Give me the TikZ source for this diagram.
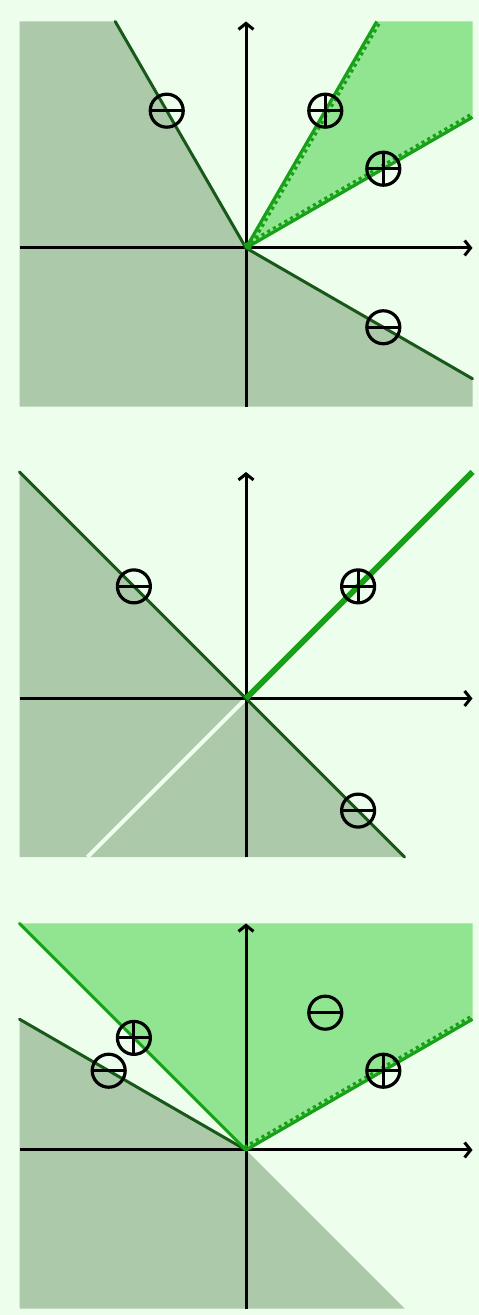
\documentclass[tikz,border=0pt]{standalone}
\usetikzlibrary{arrows.meta}
\definecolor{bgc}{RGB}{238,254,236}
\definecolor{darkfill}{RGB}{172,202,170}
\definecolor{greenfill}{RGB}{145,229,145}
\definecolor{darkline}{RGB}{24,88,24}
\definecolor{brightline}{RGB}{24,160,24}
\tikzset{
  axis/.style={line width=3pt, black, -{Straight Barb[length=6pt,width=15pt]}},
  darkedge/.style={line width=3pt, darkline, line cap=round},
  solidgreen/.style={line width=3.2pt, brightline},
  greendots/.style={line width=3pt, brightline, dash pattern=on 3.2pt off 3.4pt},
  sgn/.style={circle, draw=black, line width=3.2pt, minimum size=33pt, inner sep=0pt},
  minussign/.style={sgn, path picture={\draw[line width=3.2pt] (path picture bounding box.west) -- (path picture bounding box.east);}},
  plussign/.style={sgn, path picture={\draw[line width=3.2pt] (path picture bounding box.west) -- (path picture bounding box.east); \draw[line width=3.2pt] (path picture bounding box.north) -- (path picture bounding box.south);}},
}
\newcommand{\greenray}[2]{% angle, offset sign
  \begin{scope}[rotate=#1]
    \draw[solidgreen] (0,0) -- (2.3094,0);
    \draw[greendots] (0,#2*3.2pt) -- (2.3094,#2*3.2pt);
  \end{scope}}
\newcommand{\axesdraw}{%
  \draw[axis] (-2,0) -- (2,0);
  \draw[axis] (0,-1.4) -- (0,2);}
\begin{document}
\begin{tikzpicture}[x=113.25pt,y=113.25pt]
\fill[bgc] (0pt,0pt) rectangle (479pt,1315pt);
\useasboundingbox (0pt,0pt) rectangle (479pt,1315pt);
% ---------- panel 1 ----------
\begin{scope}[shift={(246pt,1067pt)}]
  \fill[darkfill] (0,0) -- (-1.1547,2) -- (-2,2) -- (-2,-1.4) -- (2,-1.4) -- (2,-1.1547) -- cycle;
  \fill[greenfill] (0,0) -- (1.1547,2) -- (2,2) -- (2,1.1547) -- cycle;
  \axesdraw
  \draw[darkedge] (-1.1547,2) -- (0,0) -- (2,-1.1547);
  \greenray{60}{-1}
  \greenray{30}{1}
  \node[minussign] (a1) at (120:1.4) {};
  \node[plussign] (a2) at (60:1.4) {};
  \node[plussign] (a3) at (30:1.4) {};
  \node[minussign] (a4) at (-30:1.4) {};
\end{scope}
% ---------- panel 2 ----------
\begin{scope}[shift={(246pt,616.5pt)}]
  \fill[darkfill] (0,0) -- (-2,2) -- (-2,-1.4) -- (1.4,-1.4) -- cycle;
  \draw[bgc, line width=4pt] (0,0) -- (-1.4,-1.4);
  \axesdraw
  \draw[darkedge] (-2,2) -- (1.4,-1.4);
  \draw[brightline, line width=5.8pt] (0,0) -- (2,2);
  \node[minussign] (b1) at (135:1.4) {};
  \node[plussign] (b2) at (45:1.4) {};
  \node[minussign] (b3) at (-45:1.4) {};
\end{scope}
% ---------- panel 3 ----------
\begin{scope}[shift={(246pt,165pt)}]
  \fill[darkfill] (0,0) -- (-2,1.1547) -- (-2,-1.4) -- (1.4,-1.4) -- cycle;
  \fill[greenfill] (0,0) -- (2,1.1547) -- (2,2) -- (-2,2) -- cycle;
  \axesdraw
  \draw[darkedge] (0,0) -- (-2,1.1547);
  \draw[brightline, line width=3pt, line cap=round] (0,0) -- (-2,2);
  \greenray{30}{1}
  \node[plussign] (c1) at (135:1.4) {};
  \node[minussign] (c2) at (150:1.4) {};
  \node[minussign] (c3) at (60:1.4) {};
  \node[plussign] (c4) at (30:1.4) {};
\end{scope}
\end{tikzpicture}
\end{document}
